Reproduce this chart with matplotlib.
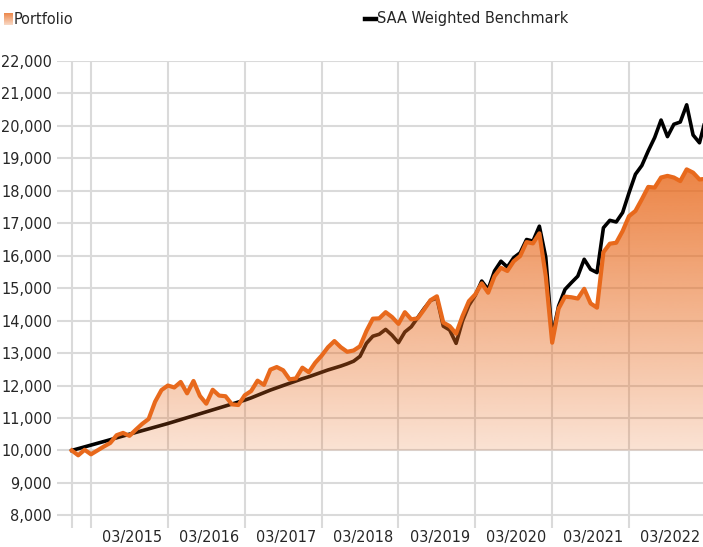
import numpy as np
import matplotlib
matplotlib.use('Agg')
import matplotlib.pyplot as plt
from matplotlib import font_manager as fm
from matplotlib.transforms import ScaledTranslation
from matplotlib.lines import Line2D

# ---------------- data (month index 0 = 12/2013) ----------------
months = list(range(100))
portfolio = [
    10000, 9850, 10020, 9880, 10000, 10120, 10230, 10470, 10540, 10450,
    10640, 10820, 10970, 11500, 11860, 12000, 11940, 12110, 11760, 12140,
    11680, 11440, 11870, 11690, 11670, 11420, 11400, 11700, 11830, 12150,
    12020, 12490, 12570, 12470, 12190, 12220, 12550, 12410, 12700, 12920,
    13180, 13370, 13180, 13040, 13080, 13210, 13680, 14060, 14070, 14260,
    14110, 13900, 14260, 14040, 14070, 14340, 14630, 14750, 13940, 13830,
    13600, 14140, 14600, 14810, 15150, 14860, 15370, 15630, 15530, 15830,
    15990, 16420, 16380, 16690, 15370, 13320, 14370, 14740, 14720, 14680,
    14980, 14530, 14400, 16110, 16370, 16400, 16760, 17220, 17380, 17740,
    18120, 18100, 18410, 18460, 18410, 18300, 18660, 18560, 18350, 18370,
]
benchmark = [
    10000, 10055, 10110, 10165, 10220, 10275, 10330, 10390, 10445, 10500,
    10555, 10610, 10665, 10720, 10775, 10830, 10890, 10950, 11010, 11070,
    11130, 11190, 11250, 11310, 11370, 11430, 11490, 11550, 11620, 11700,
    11780, 11860, 11930, 12000, 12070, 12140, 12210, 12270, 12340, 12410,
    12480, 12540, 12600, 12670, 12750, 12900, 13300, 13520, 13580, 13730,
    13550, 13320, 13650, 13810, 14090, 14370, 14620, 14700, 13830, 13710,
    13300, 13990, 14470, 14780, 15220, 14960, 15530, 15830, 15650, 15940,
    16090, 16500, 16450, 16910, 15950, 13500, 14450, 14960, 15170, 15370,
    15890, 15580, 15480, 16860, 17090, 17040, 17330, 17940, 18510, 18780,
    19230, 19640, 20180, 19670, 20050, 20120, 20650, 19720, 19480, 20250,
]
x_tick_pos = [15, 27, 39, 51, 63, 75, 87, 99]
x_tick_labels = ['03/2015', '03/2016', '03/2017', '03/2018',
                 '03/2019', '03/2020', '03/2021', '03/2022']
x_minor_pos = [0, 3]
y_ticks = list(range(8000, 22001, 1000))
series_names = ['Portfolio', 'SAA Weighted Benchmark']
baseline = 10000

# ---------------- style ----------------
ORANGE = '#E8691C'
GRID = '#DADADA'
TEXT = '#262626'

names = {f.name for f in fm.fontManager.ttflist}
font_kw = {}
if 'Liberation Sans Narrow' in names:
    font_kw = dict(family='Liberation Sans Narrow')
else:
    fp = fm.FontProperties(family='DejaVu Sans', stretch='condensed')
    if 'Condensed' in fm.findfont(fp):
        font_kw = dict(family='DejaVu Sans', stretch='condensed')
    else:
        font_kw = dict(family='Roboto')
plt.rcParams['font.family'] = font_kw['family']
if 'stretch' in font_kw:
    plt.rcParams['font.stretch'] = font_kw['stretch']

W, H = 703, 547
fig = plt.figure(figsize=(W / 100, H / 100), dpi=100)

# determine font size so the legend text matches reference width (~191 px)
renderer = fig.canvas.get_renderer()
fs = 14.0
for _ in range(3):
    t = fig.text(0, 0, series_names[1], fontsize=fs)
    w = t.get_window_extent(renderer).width
    t.remove()
    fs *= 191.0 / w

# axes placement (pixels)
L, R, T, B = 57, 710, 61, 528
ax = fig.add_axes([L / W, (H - B) / H, (R - L) / W, (B - T) / H])
x = np.array(months, dtype=float)
p = np.array(portfolio, dtype=float)
b = np.array(benchmark, dtype=float)

# benchmark line (under fill)
ax.plot(x, b, color='black', lw=2.6, zorder=2, solid_joinstyle='round')

# gradient fill between portfolio and baseline
poly = ax.fill_between(x, p, baseline, facecolor='none', edgecolor='none')
rgb = matplotlib.colors.to_rgb(ORANGE)
n = 256
img = np.zeros((n, 1, 4))
img[..., 0], img[..., 1], img[..., 2] = rgb
ylo, yhi = min(p.min(), baseline), p.max()
img[:, 0, 3] = np.linspace(0.18, 0.82, n)
im = ax.imshow(img, extent=[x.min(), x.max(), ylo, yhi], origin='lower',
               aspect='auto', zorder=3, interpolation='bilinear')
im.set_clip_path(poly.get_paths()[0], transform=ax.transData)

# portfolio line
ax.plot(x, p, color=ORANGE, lw=3.0, zorder=4, solid_joinstyle='round')

ax.set_xlim((L - 71.8) / 6.405, (R - 71.8) / 6.405)
ax.set_ylim(7610, 22000)

ax.set_xticks(x_tick_pos)
ax.set_xticklabels(x_tick_labels)
ax.set_xticks(x_minor_pos, minor=True)
ax.set_yticks(y_ticks)
ax.set_yticklabels([f'{v:,}' for v in y_ticks])
ax.grid(True, which='both', axis='x', color=GRID, lw=1.5, zorder=0)
ax.grid(True, which='major', axis='y', color=GRID, lw=1.5, zorder=0)
ax.set_axisbelow(True)
for s in ax.spines.values():
    s.set_visible(False)
ax.tick_params(axis='both', which='both', length=0, labelsize=fs, labelcolor=TEXT)
ax.tick_params(axis='y', pad=3.6)
ax.tick_params(axis='x', pad=1.5)
off = ScaledTranslation(-4 / 72, 0, fig.dpi_scale_trans)
for lab in ax.get_xticklabels():
    lab.set_ha('right')
    lab.set_transform(lab.get_transform() + off)

# legend
leg_y = 1 - 19 / H
lax = fig.add_axes([4 / W, 1 - 25 / H, 9 / W, 12 / H])
g = np.zeros((n, 1, 4))
g[..., 0], g[..., 1], g[..., 2] = rgb
g[:, 0, 3] = np.linspace(0.25, 0.8, n)
lax.imshow(g, origin='lower', aspect='auto', extent=[0, 1, 0, 1])
lax.set_axis_off()
fig.text(14 / W, leg_y, series_names[0], fontsize=fs, color=TEXT, va='center')
fig.add_artist(Line2D([365 / W, 376 / W], [leg_y, leg_y], color='black', lw=3.2,
                      transform=fig.transFigure))
fig.text(377 / W, leg_y, series_names[1], fontsize=fs, color=TEXT, va='center')

fig.savefig('out.png', dpi=100)
